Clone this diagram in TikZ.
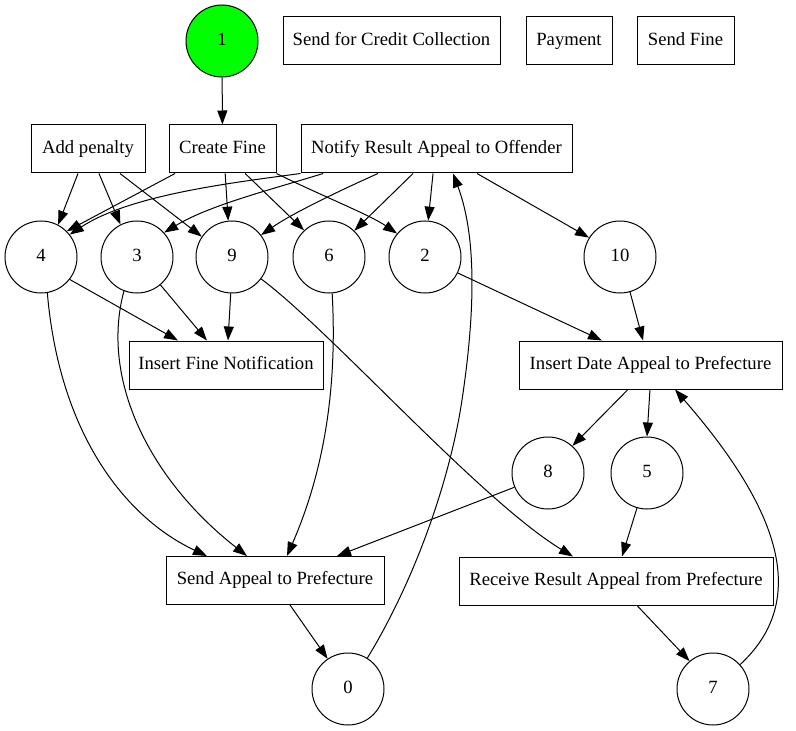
\documentclass[tikz,border=0pt]{standalone}
\usepackage{fontspec}
\setmainfont{Liberation Serif}
\usetikzlibrary{arrows.meta}
\definecolor{startgreen}{RGB}{0,255,0}
\begin{document}
\begin{tikzpicture}[x=0.75pt,y=-0.75pt,
  every node/.style={font=\fontsize{14}{16}\selectfont,text height=9.5pt,text depth=3pt},
  place/.style={circle,draw,line width=0.75pt,minimum size=54pt,inner sep=0pt},
  task/.style={rectangle,draw,line width=0.75pt,minimum height=36pt,inner sep=2pt},
  arc/.style={line width=0.75pt,-{Triangle[length=10.5pt,width=7.5pt]}}]
\useasboundingbox (0,0) rectangle (796,731);

% places
\node[place,fill=startgreen] (n1) at (222,41) {1};
\node[place] (n4) at (41,257) {4};
\node[place] (n3) at (137,257) {3};
\node[place] (n9) at (232,257) {9};
\node[place] (n6) at (329,257) {6};
\node[place] (n2) at (425,257) {2};
\node[place] (n10) at (620,257) {10};
\node[place] (n8) at (548,473) {8};
\node[place] (n5) at (647,473) {5};
\node[place] (n0) at (348,689) {0};
\node[place] (n7) at (713,689) {7};

% transitions
\node[task,minimum width=162.75pt] (scc) at (391.5,41) {Send for Credit Collection};
\node[task,minimum width=64.5pt] (pay) at (569,41) {Payment};
\node[task,minimum width=72.75pt] (sf) at (685.5,41) {Send Fine};
\node[task,minimum width=85.5pt] (ap) at (88,149) {Add penalty};
\node[task,minimum width=80.25pt] (cf) at (222.5,149) {Create Fine};
\node[task,minimum width=203.25pt] (nr) at (436.5,149) {Notify Result Appeal to Offender};
\node[task,minimum width=145.5pt] (ifn) at (226,365) {Insert Fine Notification};
\node[task,minimum width=197.25pt] (ida) at (650.5,365) {Insert Date Appeal to Prefecture};
\node[task,minimum width=163.5pt] (sap) at (275,580.5) {Send Appeal to Prefecture};
\node[task,minimum width=235.5pt] (rra) at (616,581) {Receive Result Appeal from Prefecture};

% arcs from the top row
\draw[arc] (n1) -- (cf);
\draw[arc] ([xshift=-7.5pt]ap.south) -- (n4.62);
\draw[arc] ([xshift=8.25pt]ap.south) -- (n3.117);
\draw[arc] ([xshift=24pt]ap.south) -- (n9.146);
\draw[arc] ([xshift=-35.6pt]cf.south) -- (n4.45);
\draw[arc] ([xshift=2pt]cf.south) -- (n9.96);
\draw[arc] ([xshift=17pt]cf.south) -- (n6.133);
\draw[arc] (cf.south east) .. controls (320,195) and (370,215) .. (n2.140);
\draw[arc] (nr.south west) .. controls (230,183) and (130,195) .. (n4.38);
\draw[arc] ([xshift=-85.1pt]nr.south) .. controls (270,190) and (210,205) .. (n3.42);
\draw[arc] ([xshift=-43.9pt]nr.south) .. controls (330,195) and (290,215) .. (n9.37);
\draw[arc] ([xshift=-17.6pt]nr.south) -- (n6.46);
\draw[arc] ([xshift=-2.6pt]nr.south) -- (n2.85);
\draw[arc] ([xshift=30.4pt]nr.south) -- (n10.148);

% arcs in the middle
\draw[arc] (n4.-38) -- ([xshift=-36pt]ifn.north);
\draw[arc] (n3.-50) -- ([xshift=-14.25pt]ifn.north);
\draw[arc] (n9.-92) -- ([xshift=1.5pt]ifn.north);
\draw[arc] (n4.-80) .. controls (60,440) and (130,520) .. ([xshift=-51pt]sap.north);
\draw[arc] (n3.-111) .. controls (100,380) and (150,480) .. ([xshift=-21pt]sap.north);
\draw[arc] (n6.-85) .. controls (338,400) and (320,480) .. ([xshift=9pt]sap.north);
\draw[arc] (n8.-157) -- ([xshift=46.5pt]sap.north);
\draw[arc] (n9.-37) .. controls (330,330) and (480,500) .. ([xshift=-32.25pt]rra.north);
\draw[arc] (n2.-26) -- ([xshift=-36.4pt]ida.north);
\draw[arc] (n10.-74) -- ([xshift=-5.6pt]ida.north);
\draw[arc] ([xshift=-16.9pt]ida.south) -- (n8.48);
\draw[arc] ([xshift=-0.4pt]ida.south) -- (n5.90);
\draw[arc] (n5.-106) -- ([xshift=4.5pt]rra.north);

% arcs at the bottom
\draw[arc] ([xshift=11.25pt]sap.south) -- (n0.124);
\draw[arc] ([xshift=15.75pt]rra.south) -- (n7.130);
\draw[arc] (n7.42) .. controls (810,600) and (780,510) .. ([xshift=18.4pt]ida.south);
\draw[arc] (n0.58) .. controls (415,580) and (450,480) .. (462,400)
  .. controls (474,320) and (478,240) .. ([xshift=12.4pt]nr.south);
\end{tikzpicture}
\end{document}
